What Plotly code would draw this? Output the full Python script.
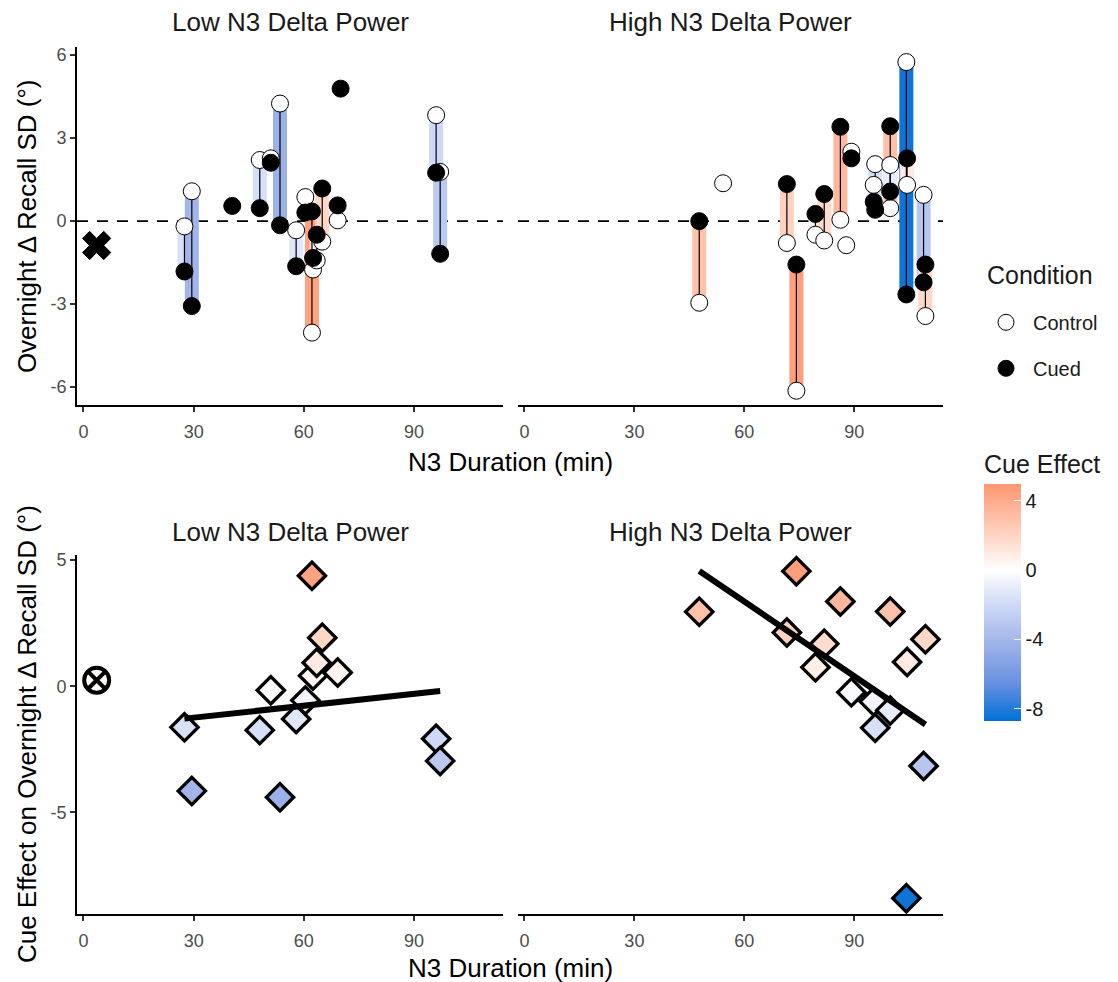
import numpy as np
import plotly.graph_objects as go
from plotly.colors import sample_colorscale

# ---------------- data ----------------
# Low N3 delta power panel: paired subjects
low_x = [27.5, 29.5, 48.0, 51.0, 53.5, 57.9, 60.4, 62.2, 62.5, 63.5, 65.0, 69.2, 96.0, 97.1]
low_control = [-0.19, 1.08, 2.21, 2.27, 4.25, -0.33, 0.87, -4.03, -1.75, -1.42, -0.74, 0.03, 3.83, 1.78]
low_cued = [-1.82, -3.07, 0.47, 2.11, -0.15, -1.63, 0.31, 0.35, -1.33, -0.49, 1.18, 0.57, 1.75, -1.18]
# cued-only observations
low_cued_only_x = [40.5, 70.0]
low_cued_only = [0.55, 4.79]
# flagged subject near N3 = 0
low_flag_x = [3.6]
low_flag_value = [-0.88]
low_flag_effect = [0.24]

# High N3 delta power panel: paired subjects
high_x = [47.7, 71.6, 74.2, 79.4, 81.8, 86.2, 89.2, 95.3, 95.7, 99.8, 99.8, 104.2, 104.4, 108.9, 109.4]
high_control = [-2.95, -0.79, -6.13, -0.49, -0.70, 0.05, 2.51, 1.31, 2.06, 0.47, 2.03, 5.75, 1.31, 0.95, -3.43]
high_cued = [0.00, 1.34, -1.57, 0.26, 0.98, 3.41, 2.27, 0.70, 0.41, 3.43, 1.07, -2.65, 2.27, -2.21, -1.57]
# control-only observations
high_control_only_x = [54.2, 87.8]
high_control_only = [1.37, -0.87]

panel_titles = ["Low N3 Delta Power", "High N3 Delta Power"]
x_ticks = [0, 30, 60, 90]
top_y_ticks = [-6, -3, 0, 3, 6]
bottom_y_ticks = [-5, 0, 5]
cbar_ticks = [-8, -4, 0, 4]

# ---------------- colour scale (Cue Effect) ----------------
CMIN, CMAX = -8.7, 4.95
scale_stops = [(-8.7, "#0070D6"), (-6.5, "#6991E1"), (-4.0, "#A5B7EB"),
               (-2.0, "#D0DAF7"), (0.0, "#FFFFFF"), (2.0, "#FFD5C4"), (4.95, "#FF9670")]
colorscale = [[(v - CMIN) / (CMAX - CMIN), c] for v, c in scale_stops]


def effect_color(v):
    f = min(max((v - CMIN) / (CMAX - CMIN), 0), 1)
    return sample_colorscale(colorscale, [f])[0]


# page pixel -> paper coordinates (the page places the figure 8 px in from the corner)
W, H = 1118, 982
OFF = 8
def fx(p):
    return (p - OFF) / W
def fy(p):
    return 1 - (p - OFF) / H

FONT = "Liberation Sans, Arial, sans-serif"
TXT = "#1A1A1A"
TICK = "#4D4D4D"

fig = go.Figure()

panels = [
    dict(xa="x", ya="y", xb="x3", yb="y3", x=low_x, c=low_control, q=low_cued),
    dict(xa="x2", ya="y2", xb="x4", yb="y4", x=high_x, c=high_control, q=high_cued),
]

for i, p in enumerate(panels):
    xs, ctrl, cued = p["x"], p["c"], p["q"]
    eff = [q - c for q, c in zip(cued, ctrl)]
    for xv, cv, qv, ev in zip(xs, ctrl, cued, eff):
        fig.add_trace(go.Scatter(x=[xv, xv], y=[cv, qv], mode="lines",
                                 line=dict(color=effect_color(ev), width=14),
                                 xaxis=p["xa"], yaxis=p["ya"], showlegend=False, hoverinfo="skip"))
    lx, ly = [], []
    for xv, cv, qv in zip(xs, ctrl, cued):
        lx += [xv, xv, None]
        ly += [cv, qv, None]
    fig.add_trace(go.Scatter(x=lx, y=ly, mode="lines", line=dict(color="black", width=1.2),
                             xaxis=p["xa"], yaxis=p["ya"], showlegend=False, hoverinfo="skip"))

ctrl_marker = dict(symbol="circle", size=17, color="white", line=dict(color="black", width=1))
cued_marker = dict(symbol="circle", size=17, color="black", line=dict(color="black", width=1))

fig.add_trace(go.Scatter(x=low_x, y=low_control, mode="markers", marker=ctrl_marker,
                         name="Control", legendgroup="control", showlegend=True,
                         xaxis="x", yaxis="y"))
fig.add_trace(go.Scatter(x=high_x + high_control_only_x, y=high_control + high_control_only,
                         mode="markers", marker=ctrl_marker, legendgroup="control",
                         showlegend=False, xaxis="x2", yaxis="y2"))
fig.add_trace(go.Scatter(x=low_x + low_cued_only_x, y=low_cued + low_cued_only, mode="markers",
                         marker=cued_marker, name="Cued", legendgroup="cued", showlegend=True,
                         xaxis="x", yaxis="y"))
fig.add_trace(go.Scatter(x=high_x, y=high_cued, mode="markers", marker=cued_marker,
                         legendgroup="cued", showlegend=False, xaxis="x2", yaxis="y2"))
fig.add_trace(go.Scatter(x=low_flag_x, y=low_flag_value, mode="markers",
                         marker=dict(symbol="x", size=25, color="black", line=dict(color="black", width=1)),
                         showlegend=False, xaxis="x", yaxis="y"))

for p in panels:
    xs = p["x"]
    eff = [q - c for q, c in zip(p["q"], p["c"])]
    fig.add_trace(go.Scatter(x=xs, y=eff, mode="markers",
                             marker=dict(symbol="diamond", size=21, color=eff, coloraxis="coloraxis",
                                         line=dict(color="black", width=3.3)),
                             showlegend=False, xaxis=p["xb"], yaxis=p["yb"]))
    coef = np.polyfit(xs, eff, 1)
    rx = [min(xs), max(xs)]
    fig.add_trace(go.Scatter(x=rx, y=list(np.polyval(coef, rx)), mode="lines",
                             line=dict(color="black", width=6),
                             showlegend=False, hoverinfo="skip", xaxis=p["xb"], yaxis=p["yb"]))

fig.add_trace(go.Scatter(x=low_flag_x, y=low_flag_effect, mode="markers",
                         marker=dict(symbol="circle-x", size=25, color=low_flag_effect,
                                     coloraxis="coloraxis", line=dict(color="black", width=4)),
                         showlegend=False, xaxis="x3", yaxis="y3"))

for xr, yr in [("x", "y"), ("x2", "y2")]:
    fig.add_shape(type="line", xref=f"{xr} domain", yref=yr, x0=0, x1=1, y0=0, y1=0,
                  line=dict(color="black", width=1.6, dash="11px,9px"), layer="below")

XR = [-1.75, 114.2]
TOP_YR = [-6.66, 6.3]
BOT_YR = [-9.04, 5.21]

axis_common = dict(showgrid=False, zeroline=False, ticks="outside", ticklen=5, tickwidth=1.5,
                   tickcolor="#333333", showline=True, linecolor="black", linewidth=1.8,
                   tickfont=dict(family=FONT, size=18, color=TICK))


def labels(vals):
    return [str(v) for v in vals]


xdom_l = [fx(77), fx(503)]
xdom_r = [fx(518), fx(943)]
ydom_t = [fy(403), fy(43)]
ydom_b = [fy(914), fy(553)]

hidden_y = dict(showgrid=False, zeroline=False, showline=False, showticklabels=False, ticks="")
xcommon = dict(range=XR, tickvals=x_ticks, ticktext=labels(x_ticks), ticklabelstandoff=4, **axis_common)

fig.update_layout(
    width=W, height=H, margin=dict(l=0, r=0, t=0, b=0),
    paper_bgcolor="white", plot_bgcolor="white",
    font=dict(family=FONT, color=TXT),
    xaxis=dict(domain=xdom_l, anchor="y", **xcommon),
    yaxis=dict(domain=ydom_t, range=TOP_YR, tickvals=top_y_ticks, ticktext=labels(top_y_ticks),
               anchor="x", **axis_common),
    xaxis2=dict(domain=xdom_r, anchor="y2", **xcommon),
    yaxis2=dict(domain=ydom_t, range=TOP_YR, anchor="x2", **hidden_y),
    xaxis3=dict(domain=xdom_l, anchor="y3", **xcommon),
    yaxis3=dict(domain=ydom_b, range=BOT_YR, tickvals=bottom_y_ticks, ticktext=labels(bottom_y_ticks),
                anchor="x3", **axis_common),
    xaxis4=dict(domain=xdom_r, anchor="y4", **xcommon),
    yaxis4=dict(domain=ydom_b, range=BOT_YR, anchor="x4", **hidden_y),
    coloraxis=dict(
        colorscale=colorscale, cmin=CMIN, cmax=CMAX,
        colorbar=dict(
            title=dict(text="Cue Effect", side="top", font=dict(family=FONT, size=25, color=TXT)),
            thickness=37, thicknessmode="pixels", len=270, lenmode="pixels",
            x=fx(984), xanchor="left", xpad=0, y=fy(720), yanchor="bottom", ypad=0,
            outlinewidth=0, tickvals=cbar_ticks, ticktext=labels(cbar_ticks),
            ticks="inside", ticklen=7, tickwidth=1,
            tickcolor="rgba(255,255,255,0.85)", tickfont=dict(family=FONT, size=20, color=TXT),
        ),
    ),
    legend=dict(
        font=dict(family=FONT, size=20, color=TXT),
        x=fx(979), xanchor="left", y=fy(300), yanchor="top",
        traceorder="grouped", tracegroupgap=17, itemwidth=44, bgcolor="rgba(0,0,0,0)",
    ),
)

annotations = [dict(text="Condition", x=fx(985), y=fy(272), xref="paper", yref="paper",
                    showarrow=False, xanchor="left", yanchor="middle",
                    font=dict(family=FONT, size=25, color=TXT))]
for cx, t in zip([290, 730.5], panel_titles):
    for cy in [18, 530]:
        annotations.append(dict(text=t, x=fx(cx), y=fy(cy), xref="paper", yref="paper",
                                showarrow=False, xanchor="center", yanchor="middle",
                                font=dict(family=FONT, size=26, color=TXT)))
for cy in [460, 968]:
    annotations.append(dict(text="N3 Duration (min)", x=fx(510), y=fy(cy), xref="paper", yref="paper",
                            showarrow=False, xanchor="center", yanchor="middle",
                            font=dict(family=FONT, size=26, color="black")))
annotations.append(dict(text="Overnight Δ Recall SD (°)", x=fx(27), y=fy(223), xref="paper", yref="paper",
                        showarrow=False, textangle=-90, xanchor="center", yanchor="middle",
                        font=dict(family=FONT, size=26, color="black")))
annotations.append(dict(text="Cue Effect on Overnight Δ Recall SD (°)", x=fx(27), y=fy(733),
                        xref="paper", yref="paper", showarrow=False, textangle=-90,
                        xanchor="center", yanchor="middle",
                        font=dict(family=FONT, size=26, color="black")))
fig.update_layout(annotations=annotations)

fig.write_html("out.html")
